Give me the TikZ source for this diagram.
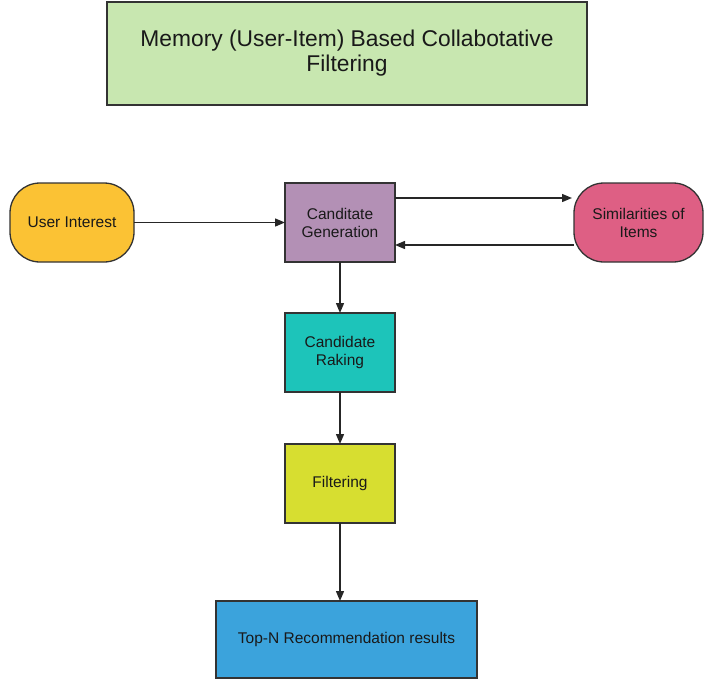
\documentclass[tikz,border=0pt]{standalone}
\usepackage{fontspec}
\setmainfont{Liberation Sans}
\usetikzlibrary{arrows.meta, positioning, calc}

\definecolor{titlegreen}{HTML}{C8E7B0}
\definecolor{userorange}{HTML}{FBC234}
\definecolor{genpurple}{HTML}{B390B5}
\definecolor{simpink}{HTML}{DE5F84}
\definecolor{rankteal}{HTML}{1DC4BA}
\definecolor{filteryellow}{HTML}{D7DE30}
\definecolor{resultblue}{HTML}{3BA3DC}

\begin{document}
\begin{tikzpicture}[
    font=\fontsize{15.5}{18}\selectfont,
    text=black!90,
    node distance=51pt and 151pt,
    % plain boxes with the dark grey border
    box/.style={draw=black!80, line width=1.3pt, outer sep=0pt, minimum width=110pt, minimum height=79pt, align=center, inner sep=4pt},
    pill/.style={box, rounded corners=30pt},
    arrow/.style={-{Triangle[length=10pt,width=8pt]}, line width=1.4pt, black!85}
]
    \useasboundingbox (0,0) rectangle (704pt,-680pt);

    \node (gen) [box, fill=genpurple] at (340pt,-222.5pt) {Canditate\\ Generation};

    \node (title) [box, fill=titlegreen, above=78pt of gen, xshift=7pt, minimum width=480pt, minimum height=103pt, font=\fontsize{22.8}{25}\selectfont] {Memory (User-Item) Based Collabotative\\ Filtering};

    \node (user) [pill, fill=userorange, left=of gen, minimum width=124pt] {User Interest};

    \node (sim) [pill, fill=simpink, right=179pt of gen, minimum width=129pt] {Similarities of\\ Items};

    \node (rank) [box, fill=rankteal, below=of gen] {Candidate\\ Raking};

    \node (filter) [box, fill=filteryellow, below=52pt of rank] {Filtering};

    \node (topn) [box, fill=resultblue, below=78pt of filter, xshift=6.5pt, minimum width=261pt, minimum height=77pt] {Top-N Recommendation results};

    \draw[arrow] (user) -- (gen);
    \draw[arrow, shorten >=2pt] ([yshift=24.5pt]gen.east) -- ([yshift=24.5pt]gen.east -| sim.west);
    \draw[arrow] ([yshift=-22.5pt]sim.west) -- ([yshift=-22.5pt]sim.west -| gen.east);
    \draw[arrow] (gen) -- (rank);
    \draw[arrow] (rank) -- (filter);
    \draw[arrow] (filter) -- (filter |- topn.north);
\end{tikzpicture}
\end{document}
